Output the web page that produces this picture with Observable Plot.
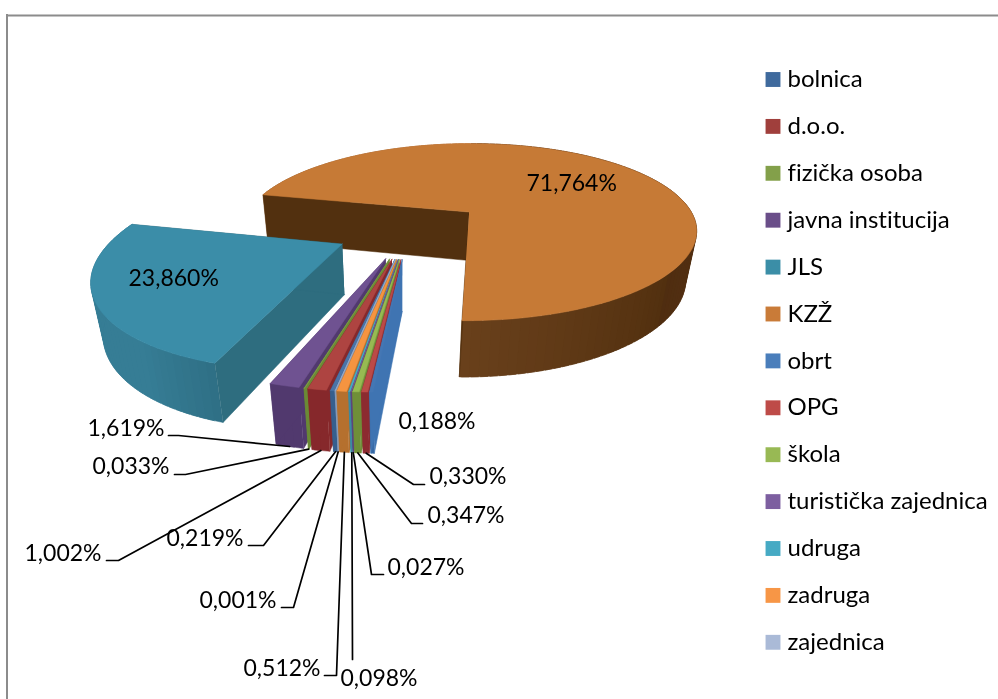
<!DOCTYPE html>
<html><head><meta charset="utf-8">
<style>html,body{margin:0;padding:0;background:#fff}svg{display:block;filter:blur(0.35px);font-variant-ligatures:none}</style>
<script src="https://cdn.jsdelivr.net/npm/d3@7"></script>
<script src="https://cdn.jsdelivr.net/npm/@observablehq/plot@0.6"></script>
</head><body><div id="chart"></div>
<script>
const categories = ["bolnica","d.o.o.","fizička osoba","javna institucija","JLS","KZŽ","obrt","OPG","škola","turistička zajednica","udruga","zadruga","zajednica"];
const shares = [0.219,1.002,0.033,1.619,23.860,71.764,0.188,0.330,0.347,0.027,0.098,0.512,0.001];
const topColors = ["#4a74a8","#ae4441","#83a04a","#6f5291","#3b8da8","#c67a36","#4477b4","#bb4a47","#97ba52","#7d5fa0","#46aac4","#f59440","#aabad7"];
const wallColors = ["#365f8e","#86282b","#6b8a35","#51396e","#367d95","#52300f","#3768a3","#8c2b30","#6f8f38","#5d447c","#3a8ba2","#b5702e","#8a9bb8"];
const sideColors = ["#365f8e","#86282b","#6b8a35","#51396e","#2e6d7f","#52300f","#3f74b2","#8c2b30","#6f8f38","#5d447c","#3a8ba2","#b5702e","#8a9bb8"];
const legendColors = ["#3f6a9d","#a03f3c","#83a04a","#6a4e89","#3b8ea7","#c97b38","#4a7ebb","#be4b48","#98b954","#7d5fa0","#46aac4","#f79646","#aabad7"];

// layout of the text (not data)
const labelX = [166,24,92,87,128,526,398,429,427,387,340,243,199];
const labelY = [538,553,466,428,278,183,421,476,515,567,678,668,600];
const elbowX = [[248,263],[106,118],[174,185],[168,178],null,null,null,[424,413],[422,411],[383,371],[352,352],[324,336],[281,293]];
const elbowY = [545,560,474,435,0,0,0,484,523,574,659,675,607];
const sliceRadius = [0.94,0.94,0.94,0.94,0.968,1,0.94,0.94,0.94,0.94,0.94,0.94,0.94];

// 3D pie view
const firstAngle = 186.2, explode = 0.31, centreU = -0.306, centreV = 0.235;
const xc = 480, horizon = -158, W0 = 366, A = 220, P = 0.225;
const rad = Math.PI/180;
function proj(u,v){const s=1/(1-P*v);return {x:xc+A*u*s,y:horizon+W0*s,s};}
function drop(p){const dy=48*Math.pow(p.s,0.6);return {x:p.x+(400-p.x)*dy/1340,y:p.y+dy};}

let acc = firstAngle;
const slices = categories.map((name,i)=>{
  const a0=acc, a1=acc+shares[i]*3.6; acc=a1;
  const mid=(a0+a1)/2*rad;
  const cu=centreU+explode*Math.sin(mid)+(name==="KZŽ"?0.012:0), cv=centreV-explode*Math.cos(mid);
  return {i,name,a0,a1,cu,cv,r:sliceRadius[i]};
});
const rim=(s,a)=>proj(s.cu+s.r*Math.sin(a*rad),s.cv-s.r*Math.cos(a*rad));

const polys=[]; let pid=0;
function poly(pts,c){pid++;for(const p of pts)polys.push({id:pid,x:p.x,y:p.y,c});}
function shade(i,a){
  if(categories[i]==="KZŽ"){
    const t=((a%360)+360)%360;
    return t>130? d3.interpolateRgb("#52300f","#69401b")((t-130)/50) : d3.interpolateRgb("#5a3415","#4f2d10")((t-60)/70);
  }
  if(categories[i]==="JLS"){
    return a<215? d3.interpolateRgb("#2f7086","#367d95")((a-197)/18) : "#367d95";
  }
  return wallColors[i];
}
function drawSlice(s){
  const apex=proj(s.cu,s.cv), r0=rim(s,s.a0), r1=rim(s,s.a1);
  // outer wall in overlapping strips
  const n=Math.max(1,Math.ceil((s.a1-s.a0)/2));
  const step=(s.a1-s.a0)/n;
  for(let k=0;k<n;k++){
    const a=s.a0+step*k,b=Math.min(s.a1,a+step*1.8);
    const p=rim(s,a),m=rim(s,(a+b)/2),q=rim(s,b);
    poly([p,m,q,drop(q),drop(m),drop(p)],shade(s.i,a+step/2));
  }
  // side walls
  poly([apex,r0,drop(r0),drop(apex)],sideColors[s.i]);
  poly([apex,r1,drop(r1),drop(apex)],sideColors[s.i]);
  // top
  const arc=[];for(let k=0;k<=n;k++)arc.push(rim(s,s.a0+step*k));
  poly([apex,...arc],topColors[s.i]);
}
const drawOrder=[5,4,3,2,1,0,12,11,10,9,8,7,6];
drawOrder.forEach(i=>drawSlice(slices[i]));

// labels
const fmt=v=>v.toFixed(3).replace(".",",")+"%";
const labels=categories.map((n,i)=>({text:fmt(shares[i]),x:labelX[i],y:labelY[i]}));

// leader lines from the elbow to the foot of the slice
const leaders=[];
slices.forEach(s=>{
  const e=elbowX[s.i]; if(!e)return;
  const foot=drop(rim(s,(s.a0+s.a1)/2));
  leaders.push({id:s.i,x:e[0],y:elbowY[s.i]},{id:s.i,x:e[1],y:elbowY[s.i]},{id:s.i,x:foot.x,y:foot.y});
});

const legendY=i=>79+i*46.9;
const chart=Plot.plot({
  width:998,height:699,margin:0,
  x:{domain:[0,998],range:[0,998],axis:null},
  y:{domain:[0,699],range:[0,699],axis:null},
  color:{type:"identity"},
  style:{background:"#fff",fontFamily:"Lato, Carlito, sans-serif"},
  marks:[
    Plot.ruleY([15],{x1:6,x2:998,stroke:"#8c8c8c",strokeWidth:2}),
    Plot.ruleX([6.5],{y1:14,y2:699,stroke:"#8c8c8c",strokeWidth:2}),
    Plot.line(polys,{x:"x",y:"y",z:"id",fill:"c",stroke:"c",strokeWidth:0.5}),
    Plot.line(leaders,{x:"x",y:"y",z:"id",stroke:"#000",strokeWidth:1.7}),
    Plot.text(labels,{x:"x",y:"y",text:"text",textAnchor:"start",fontSize:23,fill:"#000"}),
    Plot.dot(categories,{x:()=>772.5,y:(d,i)=>legendY(i),symbol:"square",r:8.4,fill:(d,i)=>legendColors[i],stroke:"none"}),
    Plot.text(categories,{x:()=>787,y:(d,i)=>legendY(i),text:d=>d,textAnchor:"start",fontSize:24,letterSpacing:0.1,fill:"#000"})
  ]
});
document.getElementById("chart").append(chart);
</script></body></html>
